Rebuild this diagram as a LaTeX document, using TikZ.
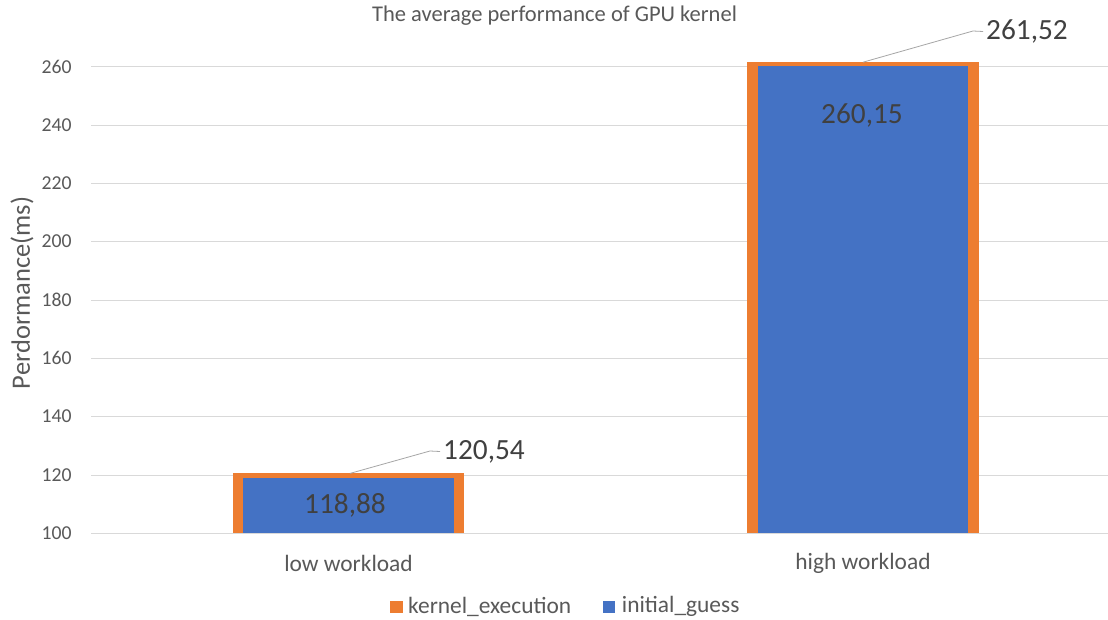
\documentclass[tikz,border=0pt]{standalone}
\usepackage{fontspec}
\setmainfont{Carlito}
\definecolor{barorange}{HTML}{ED7D31}
\definecolor{barblue}{HTML}{4472C4}
\definecolor{txtgray}{HTML}{595959}
\definecolor{lblgray}{HTML}{404040}
\definecolor{gridgray}{HTML}{D9D9D9}
\definecolor{leadgray}{HTML}{A6A6A6}
\tikzset{
  grid line/.style={draw=gridgray, line width=0.9pt},
  tick label/.style={anchor=east, inner sep=0pt, text=txtgray, font=\fontsize{19.7}{22}\selectfont},
  cat label/.style={inner sep=0pt, text=txtgray, font=\fontsize{23.4}{26}\selectfont},
  data label/.style={inner sep=0pt, text=lblgray, font=\fontsize{29.3}{32}\selectfont},
  leader/.style={draw=leadgray, line width=0.8pt},
  legend text/.style={anchor=west, inner sep=0pt, text=txtgray, font=\fontsize{23.4}{26}\selectfont},
}
\begin{document}
\begin{tikzpicture}[x=1pt, y=-1pt]
\useasboundingbox (0,0) rectangle (1108,620);
\fill[white] (0,0) rectangle (1108,620);

% value axis: 100 at y=533.3, 2.9167 px per unit
\foreach \v in {100,120,...,260}{
  \pgfmathsetmacro{\yy}{533.3-(\v-100)*2.9167}
  \draw[grid line] (91,\yy) -- (1108,\yy);
  \node[tick label] (tick\v) at (71.7,\yy) {\v};
}

% title and axis title
\node[inner sep=0pt, text=txtgray, font=\fontsize{22.5}{25}\selectfont] (title) at (554.5,16) {The average performance of GPU kernel};
\node[inner sep=0pt, text=txtgray, font=\fontsize{26.5}{29}\selectfont, rotate=90] (ytitle) at (22,293) {Perdormance(ms)};

% bars: kernel_execution (orange, wide) behind initial_guess (blue, narrow)
\fill[barorange] (232.7,533.3) rectangle (464.3,473.4);
\fill[barblue] (243.3,533.3) rectangle (454.0,478.2);
\fill[barorange] (747.3,533.3) rectangle (979.0,62.2);
\fill[barblue] (757.7,533.3) rectangle (968.3,66.2);

% data labels
\node[data label] (lowblue) at (345,505.8) {118,88};
\node[data label] (highblue) at (862,115) {260,15};
\node[data label, anchor=west, inner xsep=3pt] (loworange) at (440,451.5) {120,54};
\node[data label, anchor=west, inner xsep=3pt] (highorange) at (983,31.5) {261,52};

\coordinate (lowtop) at (350,473.4);
\coordinate (hightop) at (863,62.2);
\coordinate (lowbend) at (430,451);
\coordinate (highbend) at (973,31);
\draw[leader] (lowtop) -- (lowbend) -- (loworange.west);
\draw[leader] (hightop) -- (highbend) -- (highorange.west);

% category labels
\node[cat label] (catlow) at (348.5,563) {low workload};
\node[cat label] (cathigh) at (863,563) {high workload};

% legend
\fill[barorange] (390,600.7) rectangle (402.7,613.3);
\node[legend text] (legexec) at (408,606.5) {kernel\_execution};
\fill[barblue] (602.7,600.7) rectangle (615.4,613.3);
\node[legend text] (legguess) at (621.7,606.5) {initial\_guess};
\end{tikzpicture}
\end{document}
